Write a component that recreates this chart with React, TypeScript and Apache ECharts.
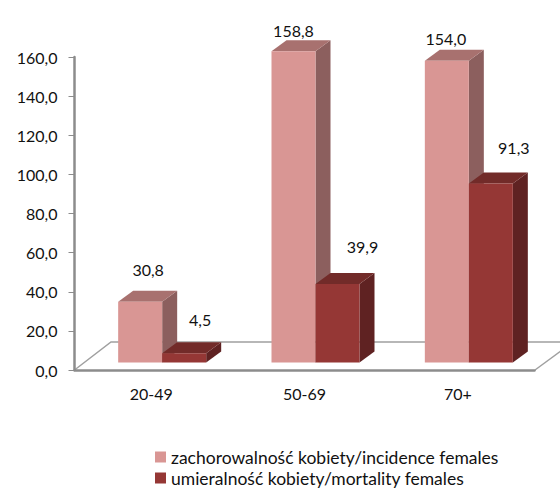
import React, { useEffect, useRef } from "react";
import * as echarts from "echarts";

const categories = ["20-49", "50-69", "70+"];
const incidence = [30.8, 158.8, 154.0];
const mortality = [4.5, 39.9, 91.3];
const incidenceName = "zachorowalność kobiety/incidence females";
const mortalityName = "umieralność kobiety/mortality females";

const FONT = "Lato, Carlito, sans-serif";
const fmt = (v: number) => v.toFixed(1).replace(".", ",");

const incidenceOffsets = [[8, -32], [0, -21], [-1, -22]];
const mortalityOffsets = [[16, -34], [25, -37], [23, -36]];

const bar3d = (
  colors: { front: string; top: string; side: string },
  side: number,
  offsets: number[][],
) => (params: any, api: any) => {
  const cat = api.value(0);
  const val = api.value(1);
  const [cx, yTop0] = api.coord([cat, val]);
  const [, yBase0] = api.coord([cat, 0]);
  const barW = 44;
  const dx = 15;
  const dy = 11;
  const x0 = cx + 11 + (side === 0 ? -barW : 0);
  const x1 = x0 + barW;
  const yT = yTop0 - 8;
  const yB = yBase0 - 7.5;
  const off = offsets[params.dataIndex];
  return {
    type: "group",
    children: [
      {
        type: "polygon",
        shape: { points: [[x1, yT], [x1 + dx, yT - dy], [x1 + dx, yB - dy], [x1, yB]] },
        style: { fill: colors.side },
      },
      {
        type: "polygon",
        shape: { points: [[x0, yT], [x0 + dx, yT - dy], [x1 + dx, yT - dy], [x1, yT]] },
        style: { fill: colors.top },
      },
      {
        type: "rect",
        shape: { x: x0, y: yT, width: barW, height: yB - yT },
        style: { fill: colors.front },
      },
      {
        type: "text",
        z2: 10,
        style: {
          text: fmt(val),
          x: x0 + barW / 2 + off[0],
          y: yT + off[1],
          textAlign: "center",
          textVerticalAlign: "middle",
          fill: "#111",
          font: `16px ${FONT}`,
        },
      },
    ],
  };
};

export default function App() {
  const ref = useRef<HTMLDivElement>(null);
  useEffect(() => {
    const chart = echarts.init(ref.current!, undefined, { renderer: "svg" });
    chart.setOption({
      animation: false,
      backgroundColor: "#fff",
      grid: { left: 74.5, right: 25.5, top: 57, bottom: 118 },
      xAxis: {
        type: "category",
        data: categories,
        axisLine: { lineStyle: { color: "#8c8c8c", width: 2.5 } },
        axisTick: { length: 6, lineStyle: { color: "#8c8c8c", width: 1 } },
        axisLabel: { color: "#111", fontFamily: FONT, fontSize: 16, margin: 15 },
      },
      yAxis: {
        type: "value",
        min: 0,
        max: 160,
        interval: 20,
        splitLine: { show: false },
        axisLine: { show: true, lineStyle: { color: "#8c8c8c", width: 2.5 } },
        axisTick: { show: true, length: 6, lineStyle: { color: "#8c8c8c", width: 1 } },
        axisLabel: {
          color: "#111",
          fontFamily: FONT,
          fontSize: 16,
          margin: 17,
          padding: [4, 0, 0, 0],
          formatter: (v: number) => fmt(v),
        },
      },
      legend: {
        left: 155,
        top: 448,
        height: 60,
        orient: "vertical",
        icon: "rect",
        itemWidth: 11,
        itemHeight: 11,
        itemGap: 3,
        padding: 0,
        textStyle: { color: "#111", fontFamily: FONT, fontSize: 17.5 },
        data: [incidenceName, mortalityName],
      },
      graphic: [
        {
          type: "polyline",
          z: -1,
          shape: { points: [[74.5, 370], [111, 342], [560, 342]] },
          style: { fill: "none", stroke: "#a0a0a0", lineWidth: 1.5 },
        },
        {
          type: "line",
          z: -1,
          shape: { x1: 535, y1: 370, x2: 573, y2: 342 },
          style: { stroke: "#a0a0a0", lineWidth: 1.5 },
        },
      ],
      series: [
        {
          type: "custom",
          name: incidenceName,
          itemStyle: { color: "#D99694" },
          encode: { x: 0, y: 1 },
          renderItem: bar3d({ front: "#D99694", top: "#A8716F", side: "#8C5F5E" }, 0, incidenceOffsets),
          data: incidence.map((v, i) => [i, v]),
        },
        {
          type: "custom",
          name: mortalityName,
          itemStyle: { color: "#953735" },
          encode: { x: 0, y: 1 },
          renderItem: bar3d({ front: "#953735", top: "#722B29", side: "#5F2222" }, 1, mortalityOffsets),
          data: mortality.map((v, i) => [i, v]),
        },
      ],
    });
    return () => chart.dispose();
  }, []);
  return <div ref={ref} style={{ position: "absolute", left: 0, top: 0, width: 560, height: 488 }} />;
}
